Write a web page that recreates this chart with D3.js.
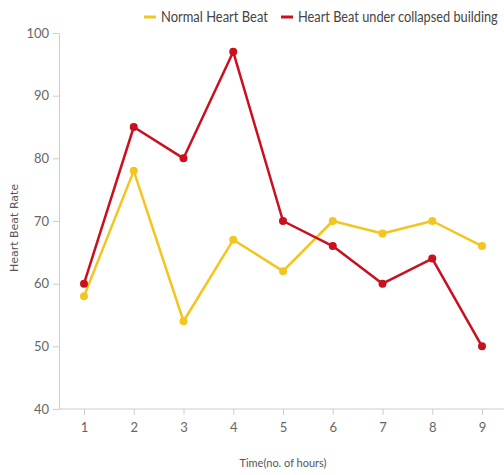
<!DOCTYPE html>
<html lang="en">
  <head>
    <meta charset="utf-8">
    <title>Heart Beat Rate</title>
    <script src="https://d3js.org/d3.v7.min.js"></script>
    <style>
      body { margin: 0; background: #fff; font-family: Lato, sans-serif; }
      .tick text { fill: #666; font-size: 13px; font-family: Lato, sans-serif; }
      .axis path, .axis line { stroke: #ccc; }
    </style>
  </head>
  <body>
    <script>
      // hours on the x axis
      var hours = [1, 2, 3, 4, 5, 6, 7, 8, 9];
      // heart beat readings for each series
      var normalBeat = [58, 78, 54, 67, 62, 70, 68, 70, 66];
      var collapsedBeat = [60, 85, 80, 97, 70, 66, 60, 64, 50];
      var seriesNames = ['Normal Heart Beat', 'Heart Beat under collapsed building'];
      var seriesColors = ['#f2c61f', '#c8101e'];
      var yTicks = [40, 50, 60, 70, 80, 90, 100];

      var outerWidth = 504,
        outerHeight = 475;

      var margin = { top: 33, left: 59, right: 0, bottom: 66 };
      var width = outerWidth - margin.left - margin.right,
        height = outerHeight - margin.top - margin.bottom;

      // hour 1 sits ~25px in from the y axis, hour 9 near the right edge
      var xScale = d3.scaleLinear()
        .domain([1, 9])
        .range([25, 423]);

      var yScale = d3.scaleLinear()
        .domain([40, 100])
        .range([height, 0]);

      var svg = d3.select('body')
        .append('svg')
        .attr('width', outerWidth)
        .attr('height', outerHeight);

      var g = svg.append('g')
        .attr('transform', 'translate(' + margin.left + ',' + margin.top + ')');

      // x axis runs off the right edge like the original
      var xAxis = g.append('g')
        .attr('class', 'axis')
        .attr('transform', 'translate(0,' + height + ')')
        .call(d3.axisBottom(xScale).tickValues(hours).tickSizeOuter(0).tickPadding(8));
      xAxis.select('.domain').attr('d', 'M0,0H' + width);

      g.append('g')
        .attr('class', 'axis')
        .call(d3.axisLeft(yScale).tickValues(yTicks).tickSizeOuter(0).tickPadding(4));

      var series = [normalBeat, collapsedBeat];

      var line = d3.line()
        .x(function(d, i) { return xScale(hours[i]); })
        .y(function(d) { return yScale(d); });

      series.forEach(function(values, k) {
        g.append('path')
          .datum(values)
          .attr('fill', 'none')
          .attr('stroke', seriesColors[k])
          .attr('stroke-width', 2.5)
          .attr('stroke-linejoin', 'round')
          .attr('d', line);

        g.selectAll('.dot' + k)
          .data(values)
          .enter()
          .append('circle')
          .attr('class', 'dot' + k)
          .attr('cx', function(d, i) { return xScale(hours[i]); })
          .attr('cy', function(d) { return yScale(d); })
          .attr('r', 4)
          .attr('fill', seriesColors[k]);
      });

      // axis titles
      svg.append('text')
        .attr('x', margin.left + xScale(5))
        .attr('y', 467)
        .attr('text-anchor', 'middle')
        .attr('fill', '#555')
        .style('font-size', '11px')
        .style('font-family', 'Lato, sans-serif')
        .text('Time(no. of hours)');

      svg.append('text')
        .attr('transform', 'translate(18,228) rotate(-90)')
        .attr('text-anchor', 'middle')
        .attr('fill', '#555')
        .style('font-size', '11px')
        .style('font-family', '"DejaVu Sans", sans-serif')
        .text('Heart Beat Rate');

      // legend along the top; text squeezed sideways to match the narrow face of the original
      var legend = svg.append('g').attr('transform', 'translate(144,17)');
      var legendX = [0, 137];
      var legendTextWidth = [107, 200];
      seriesNames.forEach(function(name, k) {
        legend.append('line')
          .attr('x1', legendX[k])
          .attr('x2', legendX[k] + 12)
          .attr('y1', 0)
          .attr('y2', 0)
          .attr('stroke', seriesColors[k])
          .attr('stroke-width', 3);
        var label = legend.append('text')
          .attr('y', 5)
          .attr('fill', '#444')
          .style('font-size', '15px')
          .style('font-family', 'Lato, sans-serif')
          .text(name);
        var squeeze = legendTextWidth[k] / label.node().getComputedTextLength();
        label.attr('transform', 'translate(' + (legendX[k] + 17) + ',0) scale(' + squeeze + ',1)');
      });
    </script>
  </body>
</html>
